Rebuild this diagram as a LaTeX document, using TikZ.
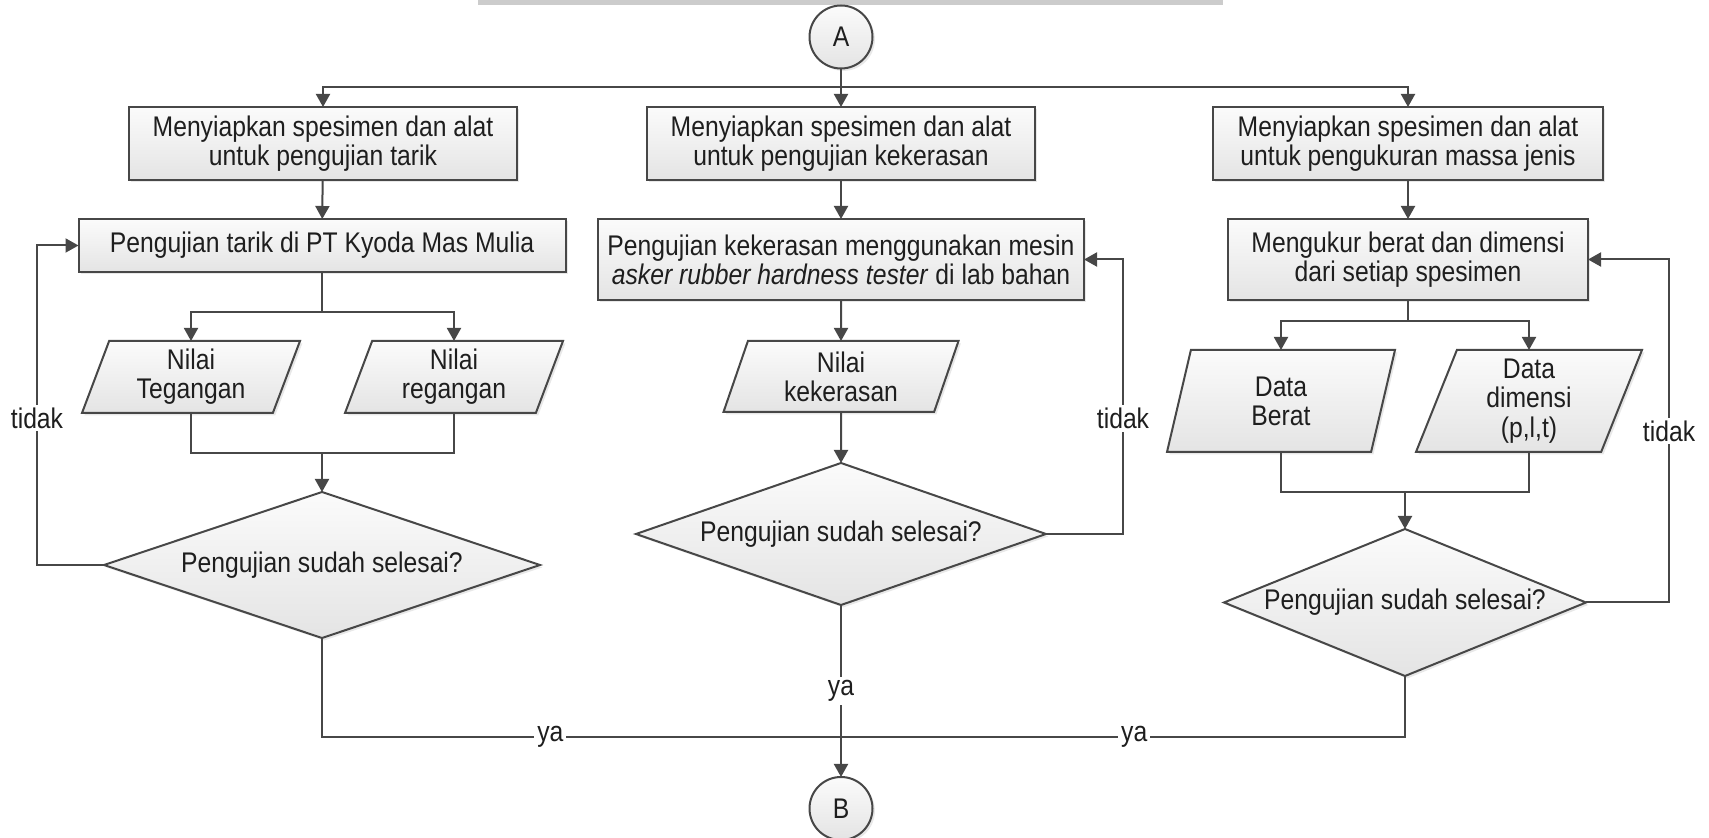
\documentclass[tikz,border=0pt]{standalone}
\usepackage{fontspec}
\setmainfont{Liberation Sans}[FakeStretch=0.87]
\usepackage{tikz}
\usetikzlibrary{arrows.meta,shapes.geometric,shadows}
\definecolor{edge}{HTML}{474747}
\definecolor{paper}{HTML}{FBFBFB}
\definecolor{shade}{HTML}{E4E4E4}
\definecolor{ink}{HTML}{1E1E1E}
\definecolor{wmgray}{HTML}{CCCCCC}
\tikzset{block/.style={draw=edge,line width=1pt,top color=paper,bottom color=shade,align=center,text=ink,inner sep=0pt,outer sep=0pt,drop shadow={shadow xshift=1.2pt,shadow yshift=-1.2pt,opacity=.18}},arr/.style={-{Triangle[length=6.5pt,width=7pt]},draw=edge,line width=1pt},note/.style={fill=white,text=ink,inner sep=1.5pt}}
\begin{document}
\begin{tikzpicture}[x=.5pt,y=-.5pt,font=\fontsize{14.2}{14.6}\selectfont,
box/.style={block,minimum height=36.5pt},
data/.style={block,trapezium,trapezium left angle=64,trapezium right angle=116,trapezium stretches body},
dec/.style={block,diamond,aspect=2.5},
conn/.style={block,circle,minimum size=31.5pt},
rel/.style={draw=edge,line width=1pt}]
\useasboundingbox (0,0) rectangle (1709,838);
\fill[wmgray] (478,0) rectangle (1223,5);
\node[conn] (a) at (841,37) {A};
\node[box,minimum width=194pt] (s1) at (323,143.5) {Menyiapkan spesimen dan alat\\untuk pengujian tarik};
\node[box,minimum width=194pt] (s2) at (841,143.5) {Menyiapkan spesimen dan alat\\untuk pengujian kekerasan};
\node[box,minimum width=195pt] (s3) at (1408,143.5) {Menyiapkan spesimen dan alat\\untuk pengukuran massa jenis};
\node[box,minimum width=243.5pt,minimum height=26.5pt] (u1) at (322,245.5) {Pengujian tarik di PT Kyoda Mas Mulia};
\node[box,minimum width=243pt,minimum height=40.5pt] (u2) at (841,259.5) {Pengujian kekerasan menggunakan mesin\\\textit{asker rubber hardness tester} di lab bahan};
\node[box,minimum width=180pt,minimum height=40.5pt] (u3) at (1408,259.5) {Mengukur berat dan dimensi\\dari setiap spesimen};
\node[data,minimum width=109pt,minimum height=36pt] (n1) at (191,377) {Nilai\\Tegangan};
\node[data,minimum width=109pt,minimum height=36pt] (n2) at (454,377) {Nilai\\regangan};
\node[data,minimum width=117.5pt,minimum height=35.5pt] (n3) at (841,376.5) {Nilai\\kekerasan};
\node[data,minimum width=114pt,minimum height=51pt] (n4) at (1281,401) {Data\\Berat};
\node[data,minimum width=113pt,minimum height=51pt] (n5) at (1529,401) {Data\\dimensi\\(p,l,t)};
\node[dec,minimum width=218pt,minimum height=73pt] (d1) at (322,565) {Pengujian sudah selesai?};
\node[dec,minimum width=205pt,minimum height=71pt] (d2) at (841,534) {Pengujian sudah selesai?};
\node[dec,minimum width=181pt,minimum height=73.5pt] (d3) at (1405,602.5) {Pengujian sudah selesai?};
\node[conn] (b) at (841,808.5) {B};
\coordinate (t) at (841,87);
\coordinate (k1) at (322,312);
\coordinate (j1) at (322,453);
\coordinate (k3) at (1408,321);
\coordinate (j3) at (1405,492);
\coordinate (m) at (841,737);
\draw[arr] (a) -- (s2);
\draw[arr] (t) -| (s1);
\draw[arr] (t) -| (s3);
\draw[arr] (s1) -- (u1);
\draw[arr] (s2) -- (u2);
\draw[arr] (s3) -- (u3);
\draw[rel] (u1) -- (k1);
\draw[arr] (k1) -| (n1);
\draw[arr] (k1) -| (n2);
\draw[rel] (n1) |- (j1) -| (n2);
\draw[arr] (j1) -- (d1);
\draw[arr] (u2) -- (n3);
\draw[arr] (n3) -- (d2);
\draw[rel] (u3) -- (k3);
\draw[arr] (k3) -| (n4);
\draw[arr] (k3) -| (n5);
\draw[rel] (n4) |- (j3) -| (n5);
\draw[arr] (j3) -- (d3);
\draw[arr] (d1.west) -- ++(-67,0) |- node[note,pos=.23]{tidak} (u1.west);
\draw[arr] (d2.east) -- ++(77,0) |- node[note,pos=.21]{tidak} (u2.east);
\draw[arr] (d3.east) -- ++(83,0) |- node[note,pos=.25]{tidak} (u3.east);
\draw[rel] (d1) |- node[note,pos=.72]{ya} (m);
\draw[rel] (d3) |- node[note,pos=.74]{ya} (m);
\draw[arr] (d2) -- node[note]{ya} (b);
\end{tikzpicture}
\end{document}
